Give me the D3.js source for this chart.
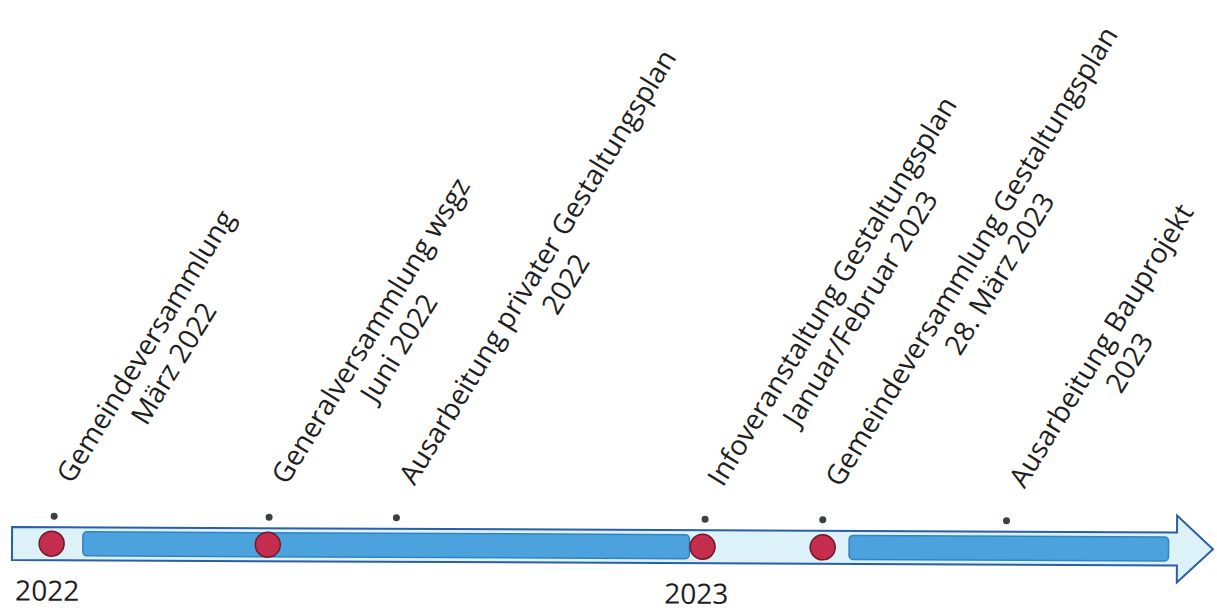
<!DOCTYPE html>
<html>
<head>
<meta charset="utf-8">
<script src="https://cdn.jsdelivr.net/npm/d3@7"></script>
<style>
  body { margin: 0; background: #fff; }
  text { font-family: "Open Sans", sans-serif; fill: #1e1e1e; }
</style>
</head>
<body>
<svg width="1217" height="612"></svg>
<script>
// Positionen entlang der Zeitachse (0 = Pfeilanfang, 100 = Pfeilspitze)
const eventPos = [3.5, 21.4, 32.0, 57.7, 67.5, 82.8];
const eventTitle = [
    "Gemeindeversammlung",
    "Generalversammlung wsgz",
    "Ausarbeitung privater Gestaltungsplan",
    "Infoveranstaltung Gestaltungsplan",
    "Gemeindeversammlung Gestaltungsplan",
    "Ausarbeitung Bauprojekt"
];
const eventDate = [
    "März 2022",
    "Juni 2022",
    "2022",
    "Januar/Februar 2023",
    "28. März 2023",
    "2023"
];
const milestonePos = [3.3, 21.3, 57.5, 67.5];
const phaseStart = [5.9, 69.7];
const phaseEnd = [56.4, 96.3];
const yearLabels = ["2022", "2023"];
const yearPos = [2.95, 57.0];

const cy = 543.5;          // Mitte des Pfeils
const headStart = 97;      // Beginn der Pfeilspitze

const x = d3.scaleLinear().domain([0, 100]).range([12, 1213]);

// ganze Zeichnung ist leicht schief (Scan)
const svg = d3.select("svg")
    .append("g")
    .attr("transform", `rotate(0.27, 12, ${cy})`);

// Pfeil
const arrow = d3.path();
arrow.moveTo(x(0), cy - 16.5);
arrow.lineTo(x(headStart), cy - 16.5);
arrow.lineTo(x(headStart), cy - 33.5);
arrow.lineTo(x(100), cy);
arrow.lineTo(x(headStart), cy + 33.5);
arrow.lineTo(x(headStart), cy + 16.5);
arrow.lineTo(x(0), cy + 16.5);
arrow.closePath();

svg.append("path")
    .attr("d", arrow.toString())
    .attr("fill", "#ddf2f8")
    .attr("stroke", "#2a5ea6")
    .attr("stroke-width", 2)
    .attr("stroke-linejoin", "miter");

// Phasen (blaue Balken)
svg.selectAll(".phase")
    .data(d3.range(phaseStart.length))
    .enter().append("rect")
    .attr("class", "phase")
    .attr("x", i => x(phaseStart[i]))
    .attr("y", cy - 12)
    .attr("width", i => x(phaseEnd[i]) - x(phaseStart[i]))
    .attr("height", 24)
    .attr("rx", 4)
    .attr("fill", "#4ba2dc")
    .attr("stroke", "#2f84c4")
    .attr("stroke-width", 1.5);

// Meilensteine (rote Punkte)
svg.selectAll(".milestone")
    .data(milestonePos)
    .enter().append("circle")
    .attr("class", "milestone")
    .attr("cx", d => x(d))
    .attr("cy", cy)
    .attr("r", 12.5)
    .attr("fill", "#c52d4e")
    .attr("stroke", "#6d1a2c")
    .attr("stroke-width", 1.5);

// kleine Punkte über dem Pfeil
svg.selectAll(".dot")
    .data(eventPos)
    .enter().append("circle")
    .attr("class", "dot")
    .attr("cx", d => x(d))
    .attr("cy", cy - 27.5)
    .attr("r", 3.5)
    .attr("fill", "#3b4141");

// Beschriftungen, schräg
const label = svg.selectAll(".label")
    .data(d3.range(eventPos.length))
    .enter().append("g")
    .attr("class", "label")
    .attr("transform", i => `translate(${x(eventPos[i])},${cy - 27.5}) rotate(-58.8)`);

label.each(function (i) {
    const g = d3.select(this);
    const t1 = g.append("text")
        .style("font-size", "28px")
        .text(eventTitle[i]);
    const w = t1.node().getComputedTextLength();
    t1.attr("x", 36 + w / 2).attr("y", -1).attr("text-anchor", "middle");
    g.append("text")
        .style("font-size", "28px")
        .attr("x", 36 + w / 2)
        .attr("y", 32)
        .attr("text-anchor", "middle")
        .text(eventDate[i]);
});

// Jahreszahlen
svg.selectAll(".year")
    .data(d3.range(yearLabels.length))
    .enter().append("text")
    .attr("class", "year")
    .attr("x", i => x(yearPos[i]))
    .attr("y", cy + 57)
    .attr("text-anchor", "middle")
    .style("font-size", "28px")
    .text(i => yearLabels[i]);
</script>
</body>
</html>
